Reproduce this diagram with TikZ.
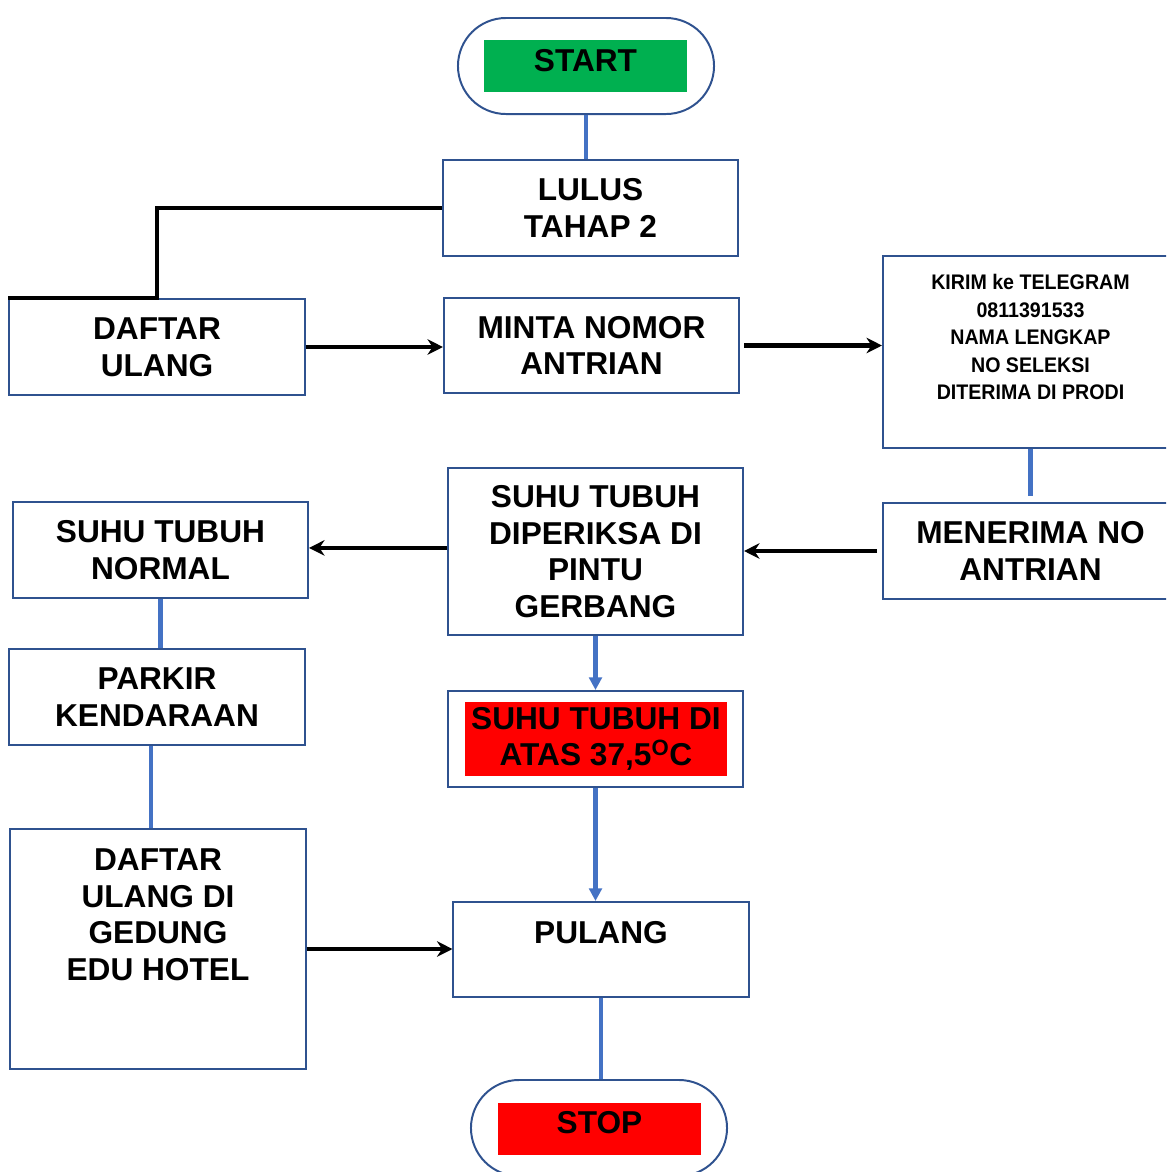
\documentclass[tikz,border=0pt]{standalone}
\usepackage{fontspec}
\setmainfont{Liberation Sans}
\newfontfamily\notefont[FakeStretch=0.93]{Liberation Sans}
\usepackage{tikz}
\usetikzlibrary{arrows.meta, positioning, calc}
\definecolor{boxblue}{HTML}{2F528F}
\definecolor{lineblue}{HTML}{4472C4}
\definecolor{startgreen}{HTML}{00B050}
\definecolor{stopred}{HTML}{FF0000}

\begin{document}
\begin{tikzpicture}[
  x=0.025cm, y=-0.025cm,
  box/.style={rectangle, draw=boxblue, line width=1.4pt, fill=white, minimum width=7.375cm, minimum height=2.4cm, font=\fontsize{22.5}{26}\selectfont\bfseries, align=center, inner sep=0pt},
  note/.style={box, font=\notefont\fontsize{15}{19.5}\selectfont\bfseries},
  terminal/.style={rectangle, rounded corners=1.2cm, draw=boxblue, line width=1.4pt, minimum width=6.4cm, minimum height=2.4cm},
  tag/.style={rectangle, minimum width=5.075cm, minimum height=1.3cm, font=\fontsize{22.5}{26}\selectfont\bfseries, align=center, inner sep=0pt},
  flow/.style={line width=3.1pt, lineblue},
  flowarrow/.style={flow, -{Triangle[length=9pt, width=9pt]}},
  link/.style={line width=3.1pt, black},
  arrow/.style={link, -{Stealth[length=11pt, width=11pt]}}
]
  \useasboundingbox (0,0) rectangle (1166,1172);
  \clip (0,0) rectangle (1166,1172);

  \node[terminal] (start) at (586,66) {};
  \node[tag, fill=startgreen, text depth=0.3cm] (startlbl) at (585.5,66) {START};

  \node[box] (lulus) at (590.5,208) {LULUS\\TAHAP 2};
  \node[box] (daftar) at (157,347) {DAFTAR\\ULANG};
  \node[box, minimum height=2.375cm] (minta) at (591.5,345.5) {MINTA NOMOR\\ANTRIAN};
  \node[note, minimum height=4.8cm, text depth=0.75cm] (kirim) at (1030.5,352) {KIRIM ke TELEGRAM\\0811391533\\NAMA LENGKAP\\NO SELEKSI\\DITERIMA DI PRODI};
  \node[box] (menerima) at (1030.5,551) {MENERIMA NO\\ANTRIAN};
  \node[box, minimum height=4.175cm] (periksa) at (595.5,551.5) {SUHU TUBUH\\DIPERIKSA DI\\PINTU\\GERBANG};
  \node[box] (normal) at (160.5,550) {SUHU TUBUH\\NORMAL};
  \node[box] (parkir) at (157,697) {PARKIR\\KENDARAAN};
  \node[box, minimum height=6cm, text depth=1.725cm] (gedung) at (158,949) {DAFTAR\\ULANG DI\\GEDUNG\\EDU HOTEL};
  \node[box] (tinggi) at (595.5,739) {};
  \node[tag, fill=stopred, minimum width=6.55cm, minimum height=1.85cm] (tinggilbl) at (596,739) {SUHU TUBUH DI\\ATAS 37,5\textsuperscript{O}C};
  \node[box, minimum height=2.375cm, text depth=0.875cm] (pulang) at (601,949.5) {PULANG};

  \node[terminal] (stop) at (599,1128) {};
  \node[tag, fill=stopred, text depth=0.35cm] (stoplbl) at (599.5,1129) {STOP};

  \draw[flow] (start.south) -- (start.south |- lulus.north);
  \draw[link] (lulus.west) -| (daftar.north) -- (daftar.north west);
  \draw[arrow] (daftar.east) -- (daftar.east -| minta.west);
  \draw[arrow] ([xshift=0.1cm]minta.east) -- (minta.east -| kirim.west);
  \draw[flow] (kirim.south) -- ([yshift=0.15cm]menerima.north);
  \draw[arrow] ([xshift=-0.12cm]menerima.west) -- (menerima.west -| periksa.east);
  \draw[arrow] ([yshift=0.09cm]periksa.west) -- ([yshift=0.09cm]periksa.west -| normal.east);
  \draw[flow] (normal.south) -- (normal.south |- parkir.north);
  \draw[flow] ([xshift=-0.15cm]parkir.south) -- ([xshift=-0.15cm]parkir.south |- gedung.north);
  \draw[arrow] (gedung.east) -- (gedung.east -| pulang.west);
  \draw[flowarrow] (periksa.south) -- (periksa.south |- tinggi.north);
  \draw[flowarrow] (tinggi.south) -- (tinggi.south |- pulang.north);
  \draw[flow] (pulang.south) -- (pulang.south |- stop.north);
\end{tikzpicture}
\end{document}
